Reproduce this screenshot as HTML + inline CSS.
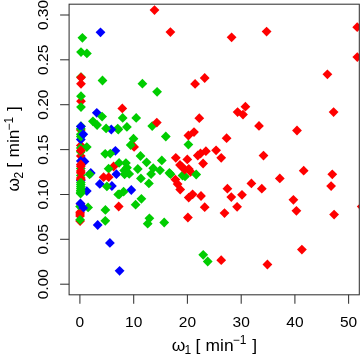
<!DOCTYPE html><html><head><meta charset="utf-8"><title>plot</title><style>html,body{margin:0;padding:0;background:#fff}svg{display:block}text{font-family:"Liberation Sans",sans-serif;fill:#000}</style></head><body>
<svg width="360" height="357" viewBox="0 0 360 357">
<rect width="360" height="357" fill="#fff"/>
<defs><clipPath id="c"><rect x="69.1" y="4.2" width="290.20000000000005" height="290.6"/></clipPath></defs>
<g clip-path="url(#c)">
<path d="M100.5 27.4L105.4 32.3L100.5 37.2L95.6 32.3Z" fill="#0000ff"/>
<path d="M82.4 32.9L87.3 37.8L82.4 42.7L77.5 37.8Z" fill="#00cd00"/>
<path d="M81.0 47.2L85.9 52.1L81.0 57.0L76.1 52.1Z" fill="#00cd00"/>
<path d="M86.9 48.5L91.8 53.4L86.9 58.3L82.0 53.4Z" fill="#00cd00"/>
<path d="M154.5 5.2L159.4 10.1L154.5 15.0L149.6 10.1Z" fill="#ff0000"/>
<path d="M170.4 27.2L175.3 32.1L170.4 37.0L165.5 32.1Z" fill="#ff0000"/>
<path d="M231.6 32.4L236.5 37.3L231.6 42.2L226.7 37.3Z" fill="#ff0000"/>
<path d="M266.6 26.7L271.5 31.6L266.6 36.5L261.7 31.6Z" fill="#ff0000"/>
<path d="M357.2 22.3L362.1 27.2L357.2 32.1L352.3 27.2Z" fill="#ff0000"/>
<path d="M357.3 52.2L362.2 57.1L357.3 62.0L352.4 57.1Z" fill="#ff0000"/>
<path d="M81.0 72.2L85.9 77.1L81.0 82.0L76.1 77.1Z" fill="#00cd00"/>
<path d="M81.0 72.6L85.9 77.5L81.0 82.4L76.1 77.5Z" fill="#ff0000"/>
<path d="M81.0 78.9L85.9 83.8L81.0 88.7L76.1 83.8Z" fill="#ff0000"/>
<path d="M102.5 75.6L107.4 80.5L102.5 85.4L97.6 80.5Z" fill="#00cd00"/>
<path d="M81.0 96.3L85.9 101.2L81.0 106.1L76.1 101.2Z" fill="#ff0000"/>
<path d="M81.0 91.3L85.9 96.2L81.0 101.1L76.1 96.2Z" fill="#00cd00"/>
<path d="M81.0 102.2L85.9 107.1L81.0 112.0L76.1 107.1Z" fill="#00cd00"/>
<path d="M142.4 78.8L147.3 83.7L142.4 88.6L137.5 83.7Z" fill="#00cd00"/>
<path d="M157.1 86.9L162.0 91.8L157.1 96.7L152.2 91.8Z" fill="#00cd00"/>
<path d="M122.3 103.5L127.2 108.4L122.3 113.3L117.4 108.4Z" fill="#ff0000"/>
<path d="M204.7 73.1L209.6 78.0L204.7 82.9L199.8 78.0Z" fill="#ff0000"/>
<path d="M195.1 79.0L200.0 83.9L195.1 88.8L190.2 83.9Z" fill="#ff0000"/>
<path d="M199.3 113.3L204.2 118.2L199.3 123.1L194.4 118.2Z" fill="#ff0000"/>
<path d="M237.6 107.2L242.5 112.1L237.6 117.0L232.7 112.1Z" fill="#ff0000"/>
<path d="M245.4 101.8L250.3 106.7L245.4 111.6L240.5 106.7Z" fill="#ff0000"/>
<path d="M243.0 109.7L247.9 114.6L243.0 119.5L238.1 114.6Z" fill="#ff0000"/>
<path d="M327.4 69.4L332.3 74.3L327.4 79.2L322.5 74.3Z" fill="#ff0000"/>
<path d="M333.6 107.2L338.5 112.1L333.6 117.0L328.7 112.1Z" fill="#ff0000"/>
<path d="M297.0 125.6L301.9 130.5L297.0 135.4L292.1 130.5Z" fill="#ff0000"/>
<path d="M259.0 121.0L263.9 125.9L259.0 130.8L254.1 125.9Z" fill="#ff0000"/>
<path d="M263.5 150.7L268.4 155.6L263.5 160.5L258.6 155.6Z" fill="#ff0000"/>
<path d="M279.8 173.5L284.7 178.4L279.8 183.3L274.9 178.4Z" fill="#ff0000"/>
<path d="M251.4 178.5L256.3 183.4L251.4 188.3L246.5 183.4Z" fill="#ff0000"/>
<path d="M303.7 165.8L308.6 170.7L303.7 175.6L298.8 170.7Z" fill="#ff0000"/>
<path d="M332.3 169.4L337.2 174.3L332.3 179.2L327.4 174.3Z" fill="#ff0000"/>
<path d="M331.1 181.2L336.0 186.1L331.1 191.0L326.2 186.1Z" fill="#ff0000"/>
<path d="M334.1 209.7L339.0 214.6L334.1 219.5L329.2 214.6Z" fill="#ff0000"/>
<path d="M361.7 201.7L366.6 206.6L361.7 211.5L356.8 206.6Z" fill="#ff0000"/>
<path d="M296.4 205.9L301.3 210.8L296.4 215.7L291.5 210.8Z" fill="#ff0000"/>
<path d="M261.8 183.8L266.7 188.7L261.8 193.6L256.9 188.7Z" fill="#ff0000"/>
<path d="M242.0 189.9L246.9 194.8L242.0 199.7L237.1 194.8Z" fill="#ff0000"/>
<path d="M293.4 194.9L298.3 199.8L293.4 204.7L288.5 199.8Z" fill="#ff0000"/>
<path d="M237.1 201.9L242.0 206.8L237.1 211.7L232.2 206.8Z" fill="#ff0000"/>
<path d="M267.4 259.6L272.3 264.5L267.4 269.4L262.5 264.5Z" fill="#ff0000"/>
<path d="M301.9 244.7L306.8 249.6L301.9 254.5L297.0 249.6Z" fill="#ff0000"/>
<path d="M194.0 127.2L198.9 132.1L194.0 137.0L189.1 132.1Z" fill="#ff0000"/>
<path d="M188.4 130.6L193.3 135.5L188.4 140.4L183.5 135.5Z" fill="#ff0000"/>
<path d="M188.4 139.7L193.3 144.6L188.4 149.5L183.5 144.6Z" fill="#00cd00"/>
<path d="M226.6 133.3L231.5 138.2L226.6 143.1L221.7 138.2Z" fill="#ff0000"/>
<path d="M216.1 145.4L221.0 150.3L216.1 155.2L211.2 150.3Z" fill="#ff0000"/>
<path d="M205.9 146.3L210.8 151.2L205.9 156.1L201.0 151.2Z" fill="#ff0000"/>
<path d="M200.5 148.6L205.4 153.5L200.5 158.4L195.6 153.5Z" fill="#ff0000"/>
<path d="M197.8 150.6L202.7 155.5L197.8 160.4L192.9 155.5Z" fill="#ff0000"/>
<path d="M221.2 152.9L226.1 157.8L221.2 162.7L216.3 157.8Z" fill="#ff0000"/>
<path d="M187.3 154.5L192.2 159.4L187.3 164.3L182.4 159.4Z" fill="#ff0000"/>
<path d="M203.1 158.6L208.0 163.5L203.1 168.4L198.2 163.5Z" fill="#ff0000"/>
<path d="M175.8 152.9L180.7 157.8L175.8 162.7L170.9 157.8Z" fill="#ff0000"/>
<path d="M182.5 170.6L187.4 175.5L182.5 180.4L177.6 175.5Z" fill="#00cd00"/>
<path d="M185.0 171.5L189.9 176.4L185.0 181.3L180.1 176.4Z" fill="#00cd00"/>
<path d="M180.0 160.0L184.9 164.9L180.0 169.8L175.1 164.9Z" fill="#ff0000"/>
<path d="M181.7 161.7L186.6 166.6L181.7 171.5L176.8 166.6Z" fill="#ff0000"/>
<path d="M184.7 164.7L189.6 169.6L184.7 174.5L179.8 169.6Z" fill="#ff0000"/>
<path d="M188.8 164.1L193.7 169.0L188.8 173.9L183.9 169.0Z" fill="#ff0000"/>
<path d="M190.6 166.9L195.5 171.8L190.6 176.7L185.7 171.8Z" fill="#ff0000"/>
<path d="M196.2 169.6L201.1 174.5L196.2 179.4L191.3 174.5Z" fill="#00cd00"/>
<path d="M192.6 189.4L197.5 194.3L192.6 199.2L187.7 194.3Z" fill="#ff0000"/>
<path d="M188.7 192.7L193.6 197.6L188.7 202.5L183.8 197.6Z" fill="#ff0000"/>
<path d="M201.0 191.1L205.9 196.0L201.0 200.9L196.1 196.0Z" fill="#ff0000"/>
<path d="M204.7 202.3L209.6 207.2L204.7 212.1L199.8 207.2Z" fill="#ff0000"/>
<path d="M187.9 212.6L192.8 217.5L187.9 222.4L183.0 217.5Z" fill="#ff0000"/>
<path d="M227.4 183.8L232.3 188.7L227.4 193.6L222.5 188.7Z" fill="#ff0000"/>
<path d="M231.3 192.2L236.2 197.1L231.3 202.0L226.4 197.1Z" fill="#ff0000"/>
<path d="M224.5 208.2L229.4 213.1L224.5 218.0L219.6 213.1Z" fill="#ff0000"/>
<path d="M203.2 249.9L208.1 254.8L203.2 259.7L198.3 254.8Z" fill="#00cd00"/>
<path d="M207.7 256.6L212.6 261.5L207.7 266.4L202.8 261.5Z" fill="#00cd00"/>
<path d="M221.2 255.3L226.1 260.2L221.2 265.1L216.3 260.2Z" fill="#ff0000"/>
<path d="M169.4 168.1L174.3 173.0L169.4 177.9L164.5 173.0Z" fill="#00cd00"/>
<path d="M170.6 169.3L175.5 174.2L170.6 179.1L165.7 174.2Z" fill="#00cd00"/>
<path d="M175.4 174.7L180.3 179.6L175.4 184.5L170.5 179.6Z" fill="#ff0000"/>
<path d="M177.6 179.2L182.5 184.1L177.6 189.0L172.7 184.1Z" fill="#ff0000"/>
<path d="M180.2 184.6L185.1 189.5L180.2 194.4L175.3 189.5Z" fill="#ff0000"/>
<path d="M152.2 121.2L157.1 126.1L152.2 131.0L147.3 126.1Z" fill="#00cd00"/>
<path d="M156.8 117.7L161.7 122.6L156.8 127.5L151.9 122.6Z" fill="#ff0000"/>
<path d="M165.8 131.6L170.7 136.5L165.8 141.4L160.9 136.5Z" fill="#00cd00"/>
<path d="M161.8 155.5L166.7 160.4L161.8 165.3L156.9 160.4Z" fill="#00cd00"/>
<path d="M146.6 157.4L151.5 162.3L146.6 167.2L141.7 162.3Z" fill="#00cd00"/>
<path d="M153.2 163.3L158.1 168.2L153.2 173.1L148.3 168.2Z" fill="#00cd00"/>
<path d="M160.0 165.4L164.9 170.3L160.0 175.2L155.1 170.3Z" fill="#00cd00"/>
<path d="M151.1 169.2L156.0 174.1L151.1 179.0L146.2 174.1Z" fill="#00cd00"/>
<path d="M148.9 178.5L153.8 183.4L148.9 188.3L144.0 183.4Z" fill="#00cd00"/>
<path d="M122.7 113.0L127.6 117.9L122.7 122.8L117.8 117.9Z" fill="#00cd00"/>
<path d="M136.2 113.0L141.1 117.9L136.2 122.8L131.3 117.9Z" fill="#00cd00"/>
<path d="M126.9 122.0L131.8 126.9L126.9 131.8L122.0 126.9Z" fill="#00cd00"/>
<path d="M118.3 124.7L123.2 129.6L118.3 134.5L113.4 129.6Z" fill="#00cd00"/>
<path d="M133.5 133.8L138.4 138.7L133.5 143.6L128.6 138.7Z" fill="#00cd00"/>
<path d="M134.1 142.0L139.0 146.9L134.1 151.8L129.2 146.9Z" fill="#ff0000"/>
<path d="M130.7 140.1L135.6 145.0L130.7 149.9L125.8 145.0Z" fill="#00cd00"/>
<path d="M140.5 151.1L145.4 156.0L140.5 160.9L135.6 156.0Z" fill="#00cd00"/>
<path d="M137.8 164.1L142.7 169.0L137.8 173.9L132.9 169.0Z" fill="#00cd00"/>
<path d="M113.6 161.6L118.5 166.5L113.6 171.4L108.7 166.5Z" fill="#ff0000"/>
<path d="M116.4 169.3L121.3 174.2L116.4 179.1L111.5 174.2Z" fill="#0000ff"/>
<path d="M119.1 158.0L124.0 162.9L119.1 167.8L114.2 162.9Z" fill="#00cd00"/>
<path d="M125.9 158.2L130.8 163.1L125.9 168.0L121.0 163.1Z" fill="#00cd00"/>
<path d="M127.0 162.8L131.9 167.7L127.0 172.6L122.1 167.7Z" fill="#00cd00"/>
<path d="M124.2 165.5L129.1 170.4L124.2 175.3L119.3 170.4Z" fill="#00cd00"/>
<path d="M124.6 169.4L129.5 174.3L124.6 179.2L119.7 174.3Z" fill="#00cd00"/>
<path d="M129.2 169.0L134.1 173.9L129.2 178.8L124.3 173.9Z" fill="#00cd00"/>
<path d="M140.9 173.5L145.8 178.4L140.9 183.3L136.0 178.4Z" fill="#00cd00"/>
<path d="M131.3 185.1L136.2 190.0L131.3 194.9L126.4 190.0Z" fill="#0000ff"/>
<path d="M123.6 186.8L128.5 191.7L123.6 196.6L118.7 191.7Z" fill="#00cd00"/>
<path d="M119.4 189.4L124.3 194.3L119.4 199.2L114.5 194.3Z" fill="#00cd00"/>
<path d="M141.4 193.9L146.3 198.8L141.4 203.7L136.5 198.8Z" fill="#00cd00"/>
<path d="M135.6 199.8L140.5 204.7L135.6 209.6L130.7 204.7Z" fill="#00cd00"/>
<path d="M149.4 213.4L154.3 218.3L149.4 223.2L144.5 218.3Z" fill="#00cd00"/>
<path d="M147.7 218.8L152.6 223.7L147.7 228.6L142.8 223.7Z" fill="#00cd00"/>
<path d="M164.2 217.6L169.1 222.5L164.2 227.4L159.3 222.5Z" fill="#00cd00"/>
<path d="M119.6 265.9L124.5 270.8L119.6 275.7L114.7 270.8Z" fill="#0000ff"/>
<path d="M109.9 238.0L114.8 242.9L109.9 247.8L105.0 242.9Z" fill="#0000ff"/>
<path d="M96.8 107.9L101.7 112.8L96.8 117.7L91.9 112.8Z" fill="#0000ff"/>
<path d="M102.1 111.7L107.0 116.6L102.1 121.5L97.2 116.6Z" fill="#00cd00"/>
<path d="M92.9 116.4L97.8 121.3L92.9 126.2L88.0 121.3Z" fill="#00cd00"/>
<path d="M97.1 120.1L102.0 125.0L97.1 129.9L92.2 125.0Z" fill="#00cd00"/>
<path d="M117.7 123.7L122.6 128.6L117.7 133.5L112.8 128.6Z" fill="#00cd00"/>
<path d="M111.3 124.6L116.2 129.5L111.3 134.4L106.4 129.5Z" fill="#0000ff"/>
<path d="M106.1 123.5L111.0 128.4L106.1 133.3L101.2 128.4Z" fill="#00cd00"/>
<path d="M115.4 145.9L120.3 150.8L115.4 155.7L110.5 150.8Z" fill="#0000ff"/>
<path d="M105.2 148.9L110.1 153.8L105.2 158.7L100.3 153.8Z" fill="#00cd00"/>
<path d="M110.3 148.7L115.2 153.6L110.3 158.5L105.4 153.6Z" fill="#00cd00"/>
<path d="M108.6 163.8L113.5 168.7L108.6 173.6L103.7 168.7Z" fill="#00cd00"/>
<path d="M90.8 168.1L95.7 173.0L90.8 177.9L85.9 173.0Z" fill="#0000ff"/>
<path d="M89.6 169.4L94.5 174.3L89.6 179.2L84.7 174.3Z" fill="#00cd00"/>
<path d="M103.6 172.3L108.5 177.2L103.6 182.1L98.7 177.2Z" fill="#ff0000"/>
<path d="M108.7 172.3L113.6 177.2L108.7 182.1L103.8 177.2Z" fill="#ff0000"/>
<path d="M99.8 179.0L104.7 183.9L99.8 188.8L94.9 183.9Z" fill="#0000ff"/>
<path d="M111.9 181.1L116.8 186.0L111.9 190.9L107.0 186.0Z" fill="#0000ff"/>
<path d="M106.9 181.5L111.8 186.4L106.9 191.3L102.0 186.4Z" fill="#00cd00"/>
<path d="M118.2 189.5L123.1 194.4L118.2 199.3L113.3 194.4Z" fill="#00cd00"/>
<path d="M118.7 201.6L123.6 206.5L118.7 211.4L113.8 206.5Z" fill="#ff0000"/>
<path d="M105.4 205.0L110.3 209.9L105.4 214.8L100.5 209.9Z" fill="#00cd00"/>
<path d="M97.7 220.1L102.6 225.0L97.7 229.9L92.8 225.0Z" fill="#0000ff"/>
<path d="M105.3 215.9L110.2 220.8L105.3 225.7L100.4 220.8Z" fill="#00cd00"/>
<path d="M81.0 121.3L85.9 126.2L81.0 131.1L76.1 126.2Z" fill="#00cd00"/>
<path d="M80.8 125.2L85.7 130.1L80.8 135.0L75.9 130.1Z" fill="#ff0000"/>
<path d="M80.8 123.9L85.7 128.8L80.8 133.7L75.9 128.8Z" fill="#00cd00"/>
<path d="M80.8 121.6L85.7 126.5L80.8 131.4L75.9 126.5Z" fill="#0000ff"/>
<path d="M80.8 140.5L85.7 145.4L80.8 150.3L75.9 145.4Z" fill="#ff0000"/>
<path d="M80.8 134.6L85.7 139.5L80.8 144.4L75.9 139.5Z" fill="#0000ff"/>
<path d="M80.8 129.4L85.7 134.3L80.8 139.2L75.9 134.3Z" fill="#00cd00"/>
<path d="M80.8 131.6L85.7 136.5L80.8 141.4L75.9 136.5Z" fill="#00cd00"/>
<path d="M83.3 129.4L88.2 134.3L83.3 139.2L78.4 134.3Z" fill="#0000ff"/>
<path d="M80.8 151.2L85.7 156.1L80.8 161.0L75.9 156.1Z" fill="#ff0000"/>
<path d="M80.8 143.1L85.7 148.0L80.8 152.9L75.9 148.0Z" fill="#00cd00"/>
<path d="M86.8 142.2L91.7 147.1L86.8 152.0L81.9 147.1Z" fill="#00cd00"/>
<path d="M80.8 146.9L85.7 151.8L80.8 156.7L75.9 151.8Z" fill="#00cd00"/>
<path d="M80.8 145.6L85.7 150.5L80.8 155.4L75.9 150.5Z" fill="#ff0000"/>
<path d="M84.5 156.5L89.4 161.4L84.5 166.3L79.6 161.4Z" fill="#0000ff"/>
<path d="M80.8 156.0L85.7 160.9L80.8 165.8L75.9 160.9Z" fill="#0000ff"/>
<path d="M80.8 163.6L85.7 168.5L80.8 173.4L75.9 168.5Z" fill="#00cd00"/>
<path d="M80.8 170.5L85.7 175.4L80.8 180.3L75.9 175.4Z" fill="#00cd00"/>
<path d="M80.8 175.5L85.7 180.4L80.8 185.3L75.9 180.4Z" fill="#0000ff"/>
<path d="M80.8 159.6L85.7 164.5L80.8 169.4L75.9 164.5Z" fill="#ff0000"/>
<path d="M80.8 161.3L85.7 166.2L80.8 171.1L75.9 166.2Z" fill="#ff0000"/>
<path d="M80.8 166.1L85.7 171.0L80.8 175.9L75.9 171.0Z" fill="#ff0000"/>
<path d="M80.8 167.9L85.7 172.8L80.8 177.7L75.9 172.8Z" fill="#ff0000"/>
<path d="M80.8 173.1L85.7 178.0L80.8 182.9L75.9 178.0Z" fill="#ff0000"/>
<path d="M80.8 174.5L85.7 179.4L80.8 184.3L75.9 179.4Z" fill="#ff0000"/>
<path d="M86.8 186.2L91.7 191.1L86.8 196.0L81.9 191.1Z" fill="#0000ff"/>
<path d="M80.8 177.7L85.7 182.6L80.8 187.5L75.9 182.6Z" fill="#00cd00"/>
<path d="M80.8 179.7L85.7 184.6L80.8 189.5L75.9 184.6Z" fill="#00cd00"/>
<path d="M80.8 181.7L85.7 186.6L80.8 191.5L75.9 186.6Z" fill="#00cd00"/>
<path d="M80.8 183.7L85.7 188.6L80.8 193.5L75.9 188.6Z" fill="#00cd00"/>
<path d="M80.7 185.7L85.6 190.6L80.7 195.5L75.8 190.6Z" fill="#00cd00"/>
<path d="M80.6 187.3L85.5 192.2L80.6 197.1L75.7 192.2Z" fill="#00cd00"/>
<path d="M80.6 188.6L85.5 193.5L80.6 198.4L75.7 193.5Z" fill="#00cd00"/>
<path d="M80.6 199.0L85.5 203.9L80.6 208.8L75.7 203.9Z" fill="#ff0000"/>
<path d="M80.1 207.3L85.0 212.2L80.1 217.1L75.2 212.2Z" fill="#ff0000"/>
<path d="M80.1 201.6L85.0 206.5L80.1 211.4L75.2 206.5Z" fill="#00cd00"/>
<path d="M88.1 202.5L93.0 207.4L88.1 212.3L83.2 207.4Z" fill="#00cd00"/>
<path d="M80.4 198.5L85.3 203.4L80.4 208.3L75.5 203.4Z" fill="#0000ff"/>
<path d="M83.2 203.0L88.1 207.9L83.2 212.8L78.3 207.9Z" fill="#0000ff"/>
<path d="M80.1 209.1L85.0 214.0L80.1 218.9L75.2 214.0Z" fill="#ff0000"/>
<path d="M80.1 211.0L85.0 215.9L80.1 220.8L75.2 215.9Z" fill="#ff0000"/>
<path d="M80.1 216.2L85.0 221.1L80.1 226.0L75.2 221.1Z" fill="#ff0000"/>
<path d="M80.1 214.9L85.0 219.8L80.1 224.7L75.2 219.8Z" fill="#00cd00"/>
</g>
<g stroke="#333" stroke-width="1.05" fill="none">
<rect x="69.1" y="4.2" width="290.20000000000005" height="290.6"/>
<line x1="79.9" y1="294.8" x2="79.9" y2="303.8"/>
<line x1="133.7" y1="294.8" x2="133.7" y2="303.8"/>
<line x1="187.4" y1="294.8" x2="187.4" y2="303.8"/>
<line x1="241.2" y1="294.8" x2="241.2" y2="303.8"/>
<line x1="294.9" y1="294.8" x2="294.9" y2="303.8"/>
<line x1="348.6" y1="294.8" x2="348.6" y2="303.8"/>
<line x1="69.1" y1="284.2" x2="60.099999999999994" y2="284.2"/>
<line x1="69.1" y1="239.3" x2="60.099999999999994" y2="239.3"/>
<line x1="69.1" y1="194.5" x2="60.099999999999994" y2="194.5"/>
<line x1="69.1" y1="149.6" x2="60.099999999999994" y2="149.6"/>
<line x1="69.1" y1="104.7" x2="60.099999999999994" y2="104.7"/>
<line x1="69.1" y1="59.8" x2="60.099999999999994" y2="59.8"/>
<line x1="69.1" y1="15.0" x2="60.099999999999994" y2="15.0"/>
</g>
<text x="79.9" y="327.2" font-size="15.5" text-anchor="middle">0</text>
<text x="133.7" y="327.2" font-size="15.5" text-anchor="middle">10</text>
<text x="187.4" y="327.2" font-size="15.5" text-anchor="middle">20</text>
<text x="241.2" y="327.2" font-size="15.5" text-anchor="middle">30</text>
<text x="294.9" y="327.2" font-size="15.5" text-anchor="middle">40</text>
<text x="348.6" y="327.2" font-size="15.5" text-anchor="middle">50</text>
<text transform="translate(48.3 284.2) rotate(-90)" font-size="15.5" text-anchor="middle">0.00</text>
<text transform="translate(48.3 239.3) rotate(-90)" font-size="15.5" text-anchor="middle">0.05</text>
<text transform="translate(48.3 194.5) rotate(-90)" font-size="15.5" text-anchor="middle">0.10</text>
<text transform="translate(48.3 149.6) rotate(-90)" font-size="15.5" text-anchor="middle">0.15</text>
<text transform="translate(48.3 104.7) rotate(-90)" font-size="15.5" text-anchor="middle">0.20</text>
<text transform="translate(48.3 59.8) rotate(-90)" font-size="15.5" text-anchor="middle">0.25</text>
<text transform="translate(48.3 15.0) rotate(-90)" font-size="15.5" text-anchor="middle">0.30</text>
<g transform="translate(214.2 350.5)"><text font-size="17.4"><tspan x="-42.4">ω</tspan><tspan x="-29.6" dy="3.5" font-size="12">1</tspan><tspan x="-18.7" dy="-3.5">[</tspan><tspan x="-8.6">min</tspan><tspan x="18.6" dy="-6.5" font-size="12">−1</tspan><tspan x="38" dy="6.5">]</tspan></text></g>
<g transform="translate(19.2 149) rotate(-90)"><text font-size="17.4"><tspan x="-42.4">ω</tspan><tspan x="-29.6" dy="3.5" font-size="12">2</tspan><tspan x="-18.7" dy="-3.5">[</tspan><tspan x="-8.6">min</tspan><tspan x="18.6" dy="-6.5" font-size="12">−1</tspan><tspan x="38" dy="6.5">]</tspan></text></g>
</svg></body></html>
